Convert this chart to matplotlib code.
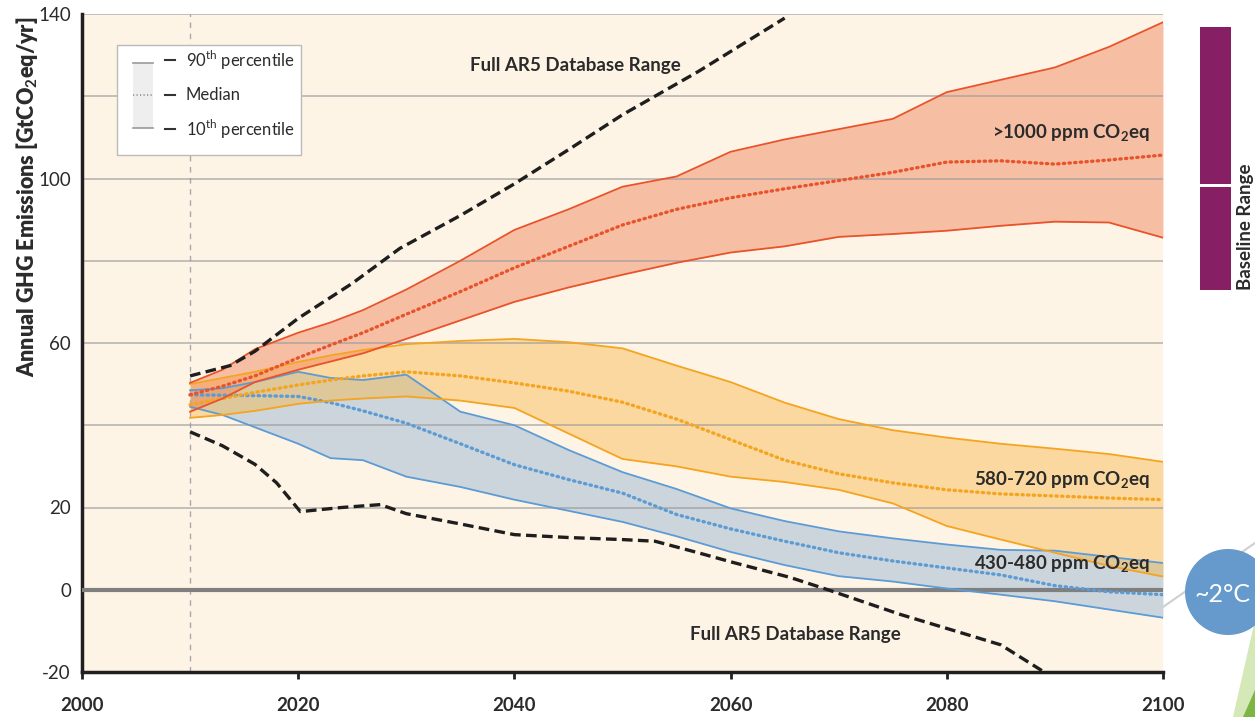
import numpy as np
import matplotlib.pyplot as plt
from matplotlib.patches import Rectangle, Ellipse, Polygon
from matplotlib.lines import Line2D

plt.rcParams['font.family'] = ['Lato', 'DejaVu Sans']
plt.rcParams['mathtext.fontset'] = 'custom'
plt.rcParams['mathtext.rm'] = 'Lato'
plt.rcParams['mathtext.bf'] = 'Lato:bold'

years = [2010, 2013, 2016, 2020, 2023, 2026, 2030, 2035, 2040, 2045, 2050,
         2055, 2060, 2065, 2070, 2075, 2080, 2085, 2090, 2095, 2100]

# >1000 ppm CO2eq
high_p90 = [50.3, 53.5, 58.5, 62.5, 65, 68, 73, 80, 87.5, 92.5, 98,
            100.5, 106.5, 109.5, 112, 114.5, 121, 124, 127, 132, 138]
high_med = [47.4, 49.5, 52, 56.4, 59.5, 62.5, 67, 72.5, 78.3, 83.5, 88.7,
            92.5, 95.3, 97.5, 99.5, 101.5, 104, 104.3, 103.5, 104.5, 105.7]
high_p10 = [43.3, 46.5, 50.5, 53.5, 55.5, 57.5, 61, 65.5, 70, 73.5, 76.6,
            79.5, 82, 83.5, 85.8, 86.5, 87.3, 88.5, 89.5, 89.3, 85.6]

# 580-720 ppm CO2eq
mid_p90 = [50, 51.5, 53, 55.4, 57, 58.3, 59.7, 60.5, 61, 60.2, 58.7,
           54.5, 50.5, 45.5, 41.5, 38.8, 37, 35.5, 34.3, 33, 31.1]
mid_med = [45, 46.5, 48, 49.8, 51, 52, 53, 52, 50.3, 48.3, 45.6,
           41.5, 36.5, 31.5, 28.2, 26, 24.3, 23.3, 22.8, 22.3, 21.9]
mid_p10 = [41.8, 42.5, 43.5, 45.2, 46, 46.5, 47, 46, 44.2, 38, 31.8,
           30, 27.5, 26.2, 24.3, 21, 15.5, 12.2, 9, 5.8, 3.2]

# 430-480 ppm CO2eq
low_p90 = [48.5, 49, 50.5, 53, 51.5, 51, 52.3, 43.3, 40, 34, 28.6,
           24.5, 19.8, 16.7, 14.2, 12.5, 11, 9.7, 9.5, 8, 6.5]
low_med = [47.4, 47.3, 47.2, 47, 45.5, 43.5, 40.5, 35.5, 30.4, 26.8, 23.5,
           18.3, 14.8, 11.8, 9, 7, 5.3, 3.6, 1, -0.5, -1.2]
low_p10 = [44.5, 42.5, 39.5, 35.5, 32, 31.5, 27.5, 25, 21.9, 19.2, 16.5,
           13, 9.2, 6, 3.3, 2.0, 0.3, -1.2, -2.8, -4.8, -6.8]

# Full AR5 database range
ar5_up_years = [2010, 2013.7, 2016, 2020, 2025, 2029.4, 2035, 2040, 2045, 2050, 2057, 2065]
ar5_up = [52, 54.5, 58, 66, 74.5, 83, 91, 98.7, 107, 115.5, 126, 139]
ar5_lo_years = [2010, 2013, 2016, 2018, 2020.2, 2024, 2027.6, 2030, 2035, 2040, 2045,
                2050, 2053, 2057, 2060, 2065.5, 2069, 2075.7, 2081, 2085, 2089]
ar5_lo = [38.4, 35, 30.5, 26, 19, 20, 20.7, 18.5, 16, 13.4, 12.7,
          12.2, 11.8, 9, 6.8, 3, 0, -6, -10.2, -13.4, -20]

bg = '#FEF4E6'
txt = '#2B2B2B'

fig = plt.figure(figsize=(12.55, 7.17), dpi=100)
ax = fig.add_axes([82/1255, 45/717, (1163-82)/1255, (672-14)/717])
ax.set_facecolor(bg)

bands = [
    (low_p10, low_med, low_p90, '#9AB8D2', '#5C9BD5', 0.5),
    (mid_p10, mid_med, mid_p90, '#F6B84A', '#F5A41F', 0.45),
    (high_p10, high_med, high_p90, '#EE7F55', '#E9532B', 0.45),
]
for p10, med, p90, fc, lc, a in bands:
    ax.fill_between(years, p10, p90, color=fc, alpha=a, lw=0, zorder=2)
    ax.plot(years, p90, color=lc, lw=1.3, zorder=3)
    ax.plot(years, p10, color=lc, lw=1.3, zorder=3)
    ax.plot(years, med, color=lc, lw=2.4, ls=(0, (0.4, 1.3)),
            dash_capstyle='round', zorder=3)

ax.plot(ar5_up_years, ar5_up, color='#1E1E1E', lw=2.4, ls=(0, (3.2, 1.6)), zorder=4)
ax.plot(ar5_lo_years, ar5_lo, color='#1E1E1E', lw=2.4, ls=(0, (3.2, 1.6)), zorder=4)

# grid + zero line
for yv in range(20, 141, 20):
    ax.axhline(yv, color='#9A9A9A', lw=1.2, alpha=0.7, zorder=2.5)
ax.axhline(0, color='#7F7F7F', lw=3, zorder=2.6)
ax.axvline(2010, color='#A8A8A8', lw=1, ls=(0, (4, 4)), zorder=1.5)

ax.set_xlim(2000, 2100)
ax.set_ylim(-20, 140)
ax.set_xticks([2000, 2020, 2040, 2060, 2080, 2100])
ax.set_xticklabels(['2000', '2020', '2040', '2060', '2080', '2100'],
                   fontsize=13.5, fontweight='bold', color=txt)
ax.set_yticks(range(-20, 141, 20))
ax.set_yticklabels(['-20', '0', '20', '', '60', '', '100', '', '140'],
                   fontsize=13.5, color=txt)
ax.tick_params(axis='y', length=0, pad=8)
ax.tick_params(axis='x', length=5, width=2, direction='out', pad=13, color='#231F20')
for s in ['top', 'right']:
    ax.spines[s].set_visible(False)
for s in ['left', 'bottom']:
    ax.spines[s].set_linewidth(2.5)
    ax.spines[s].set_color('#231F20')

fig.text(27/1255, 1 - 197/717, 'Annual GHG Emissions [GtCO$_\\mathbf{2}$eq/yr]', rotation=90,
         ha='center', va='center', fontsize=15.5, fontweight='heavy', color=txt)

# annotations
ax.text(2045.6, 127.4, 'Full AR5 Database Range', ha='center', va='center',
        fontsize=13.5, fontweight='bold', color=txt, zorder=6)
ax.text(2066, -11, 'Full AR5 Database Range', ha='center', va='center',
        fontsize=13.5, fontweight='bold', color=txt, zorder=6)
ax.text(2098.8, 111, '>1000 ppm CO$_\\mathbf{2}$eq', ha='right', va='center',
        fontsize=13.5, fontweight='bold', color=txt, zorder=6)
ax.text(2098.8, 26.7, '580-720 ppm CO$_\\mathbf{2}$eq', ha='right', va='center',
        fontsize=13.5, fontweight='bold', color=txt, zorder=6)
ax.text(2098.8, 6.1, '430-480 ppm CO$_\\mathbf{2}$eq', ha='right', va='center',
        fontsize=13.5, fontweight='bold', color=txt, zorder=6)

# legend box
ax.add_patch(Rectangle((2003.2, 105.8), 17.1, 26.6, facecolor='white',
                       edgecolor='#BBBBBB', lw=1, zorder=7))
ax.add_patch(Rectangle((2004.7, 112.3), 1.9, 15.8, facecolor='#EEEEEE',
                       edgecolor='none', zorder=8))
ax.plot([2004.7, 2006.6], [128.1, 128.1], color='#999999', lw=1.2, zorder=9)
ax.plot([2004.7, 2006.6], [112.3, 112.3], color='#999999', lw=1.2, zorder=9)
ax.plot([2004.7, 2006.6], [120.3, 120.3], color='#999999', lw=1.4,
        ls=(0, (0.6, 1.2)), zorder=9)
leg_labels = ['90$^{\\rm th}$ percentile', 'Median', '10$^{\\rm th}$ percentile']
for yv, lab in zip([128.7, 120.3, 112.0], leg_labels):
    ax.plot([2007.7, 2008.6], [yv, yv], color='#333333', lw=1.5, zorder=9)
    ax.text(2009.6, yv, lab, ha='left', va='center', fontsize=12,
            color=txt, zorder=9)

# right-hand side decorations
fig.patches.append(Rectangle((1200/1255, 1 - 184/717), 31/1255, 157/717,
                             transform=fig.transFigure, facecolor='#861F64',
                             edgecolor='none'))
fig.patches.append(Rectangle((1200/1255, 1 - 290/717), 31/1255, 103/717,
                             transform=fig.transFigure, facecolor='#861F64',
                             edgecolor='none'))
fig.text(1246/1255, 1 - 290/717, 'Baseline Range', rotation=90, ha='center',
         va='bottom', fontsize=13.5, fontweight='bold', color=txt)

fig.lines.append(Line2D([1163/1255, 1255/1255], [1 - 607/717, 1 - 543/717],
                        transform=fig.transFigure, color='#CFCFCF', lw=1.5,
                        zorder=0.5))
fig.patches.append(Polygon([(1233/1255, 0), (1255/1255, 1 - 620/717), (1, 0)],
                           closed=True, transform=fig.transFigure,
                           facecolor='#D4E8B8', edgecolor='none'))
fig.patches.append(Polygon([(1243/1255, 0), (1, 1 - 690/717), (1, 0)],
                           closed=True, transform=fig.transFigure,
                           facecolor='#7DB544', edgecolor='none'))
cx, cy, r = 1228, 592, 43
fig.patches.append(Ellipse((cx/1255, 1 - cy/717), 2*r/1255, 2*r/717,
                           transform=fig.transFigure, facecolor='#6699CC',
                           edgecolor='none', zorder=1.5))
fig.text(1222/1255, 1 - 594/717, '~2°C', ha='center', va='center',
         fontsize=18, color='white', zorder=3)

plt.savefig('out.png', dpi=100)
